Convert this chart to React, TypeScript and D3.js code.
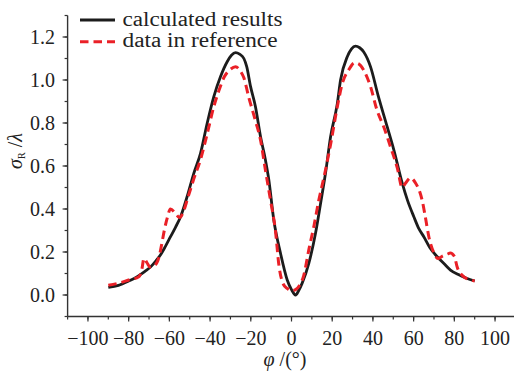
import React, { useEffect } from 'react';
import * as d3 from 'd3';

// calculated results (black solid)
const calcPhi = [-90, -85, -80, -75.8, -72, -69.3, -66.5, -64.4, -62, -59.5, -57, -54.5, -51.3, -48, -44.7, -41.4, -38.2, -34.9, -31.6, -29.5, -27.5, -25.5, -23.4, -22, -20.1, -17.7, -15.2, -12.8, -11.2, -8.7, -5.4, -2.1, 0, 2, 3.5, 5.2, 8.5, 11.8, 14.3, 16.7, 19.2, 22.5, 24.1, 27.4, 29.5, 31.4, 33.5, 35.5, 38.8, 42.5, 47, 50.3, 54.4, 57, 60.1, 62.5, 65, 68, 71.6, 75, 78.1, 82, 86, 90];
const calcVal = [0.035, 0.045, 0.065, 0.085, 0.11, 0.13, 0.16, 0.186, 0.225, 0.27, 0.315, 0.364, 0.457, 0.566, 0.659, 0.8, 0.922, 1.015, 1.085, 1.115, 1.127, 1.12, 1.1, 1.062, 0.969, 0.876, 0.736, 0.628, 0.54, 0.349, 0.194, 0.07, 0.025, 0.0, 0.02, 0.054, 0.147, 0.287, 0.427, 0.566, 0.736, 0.89, 1.0, 1.108, 1.145, 1.158, 1.15, 1.13, 1.062, 0.93, 0.783, 0.674, 0.52, 0.44, 0.364, 0.31, 0.271, 0.22, 0.178, 0.145, 0.116, 0.095, 0.078, 0.065];

// data in reference (red dashed)
const refPhi = [-90, -85, -80, -75, -73.5, -72.5, -71, -69.5, -67, -65, -63.5, -62.5, -61, -59.5, -57, -55, -53, -51, -48, -44.7, -41.4, -38.2, -35.7, -33, -30, -27.5, -25, -23.4, -21, -17.7, -15.2, -12.8, -10.3, -7.9, -6.2, -4, -2, 0, 2, 4, 6, 8.5, 11, 13.4, 16, 19.2, 22.5, 25, 28, 31, 33, 35.5, 38.8, 42, 45.4, 48.6, 52, 54.4, 56, 58.5, 61, 63, 64.2, 65.8, 67.5, 70, 72, 74, 76.5, 78, 80, 81.4, 84, 88, 90];
const refVal = [0.045, 0.055, 0.07, 0.085, 0.12, 0.17, 0.15, 0.13, 0.14, 0.18, 0.25, 0.3, 0.36, 0.4, 0.38, 0.36, 0.39, 0.45, 0.54, 0.63, 0.75, 0.875, 0.95, 1.015, 1.05, 1.062, 1.04, 1.01, 0.92, 0.81, 0.72, 0.58, 0.44, 0.3, 0.14, 0.05, 0.03, 0.02, 0.025, 0.045, 0.09, 0.21, 0.32, 0.44, 0.55, 0.7, 0.875, 0.985, 1.045, 1.08, 1.075, 1.045, 0.97, 0.86, 0.78, 0.69, 0.59, 0.5, 0.52, 0.545, 0.52, 0.48, 0.44, 0.36, 0.27, 0.195, 0.17, 0.18, 0.19, 0.195, 0.18, 0.13, 0.09, 0.07, 0.065];

const xTicks = [-100, -80, -60, -40, -20, 0, 20, 40, 60, 80, 100];
const yTicks = [0, 0.2, 0.4, 0.6, 0.8, 1.0, 1.2];

const W = 514;
const H = 373;
const FONT = "'Liberation Serif', 'Times New Roman', Times, serif";

const App: React.FC = () => {
  useEffect(() => {
    document.body.style.margin = '0';
    document.body.style.fontFamily = FONT;
  }, []);

  const x = d3.scaleLinear().domain([-110, 110]).range([67.6, 515.4]);
  const y = d3.scaleLinear().domain([-0.1, 1.3]).range([316.5, 15.5]);

  const line = d3
    .line<[number, number]>()
    .x(d => x(d[0]))
    .y(d => y(d[1]))
    .curve(d3.curveMonotoneX);

  const calc: [number, number][] = calcPhi.map((p, i) => [p, calcVal[i]]);
  const ref: [number, number][] = refPhi.map((p, i) => [p, refVal[i]]);

  const xMinor = d3.range(-110, 111, 10);
  const yMinor = d3.range(-1, 14).map(k => k / 10);

  const axisColor = '#333';
  const ts = { fontFamily: FONT };

  return (
    <svg width={W} height={H} style={{ display: 'block', background: '#fff', fontFamily: FONT }}>
      {/* curves */}
      <path d={line(calc) || ''} fill="none" stroke="#1c1c1c" strokeWidth={2.8} strokeLinejoin="round" />
      <path d={line(ref) || ''} fill="none" stroke="#ea2027" strokeWidth={3} strokeDasharray="8.5,5" />

      {/* x axis */}
      <line x1={x(-110)} x2={x(110)} y1={y(-0.1)} y2={y(-0.1)} stroke={axisColor} strokeWidth={1.4} />
      {xMinor.map(t => (
        <line key={`xm-${t}`} x1={x(t)} x2={x(t)} y1={y(-0.1)} y2={y(-0.1) + 3} stroke={axisColor} strokeWidth={1.2} />
      ))}
      {xTicks.map(t => (
        <g key={`x-${t}`}>
          <line x1={x(t)} x2={x(t)} y1={y(-0.1)} y2={y(-0.1) + 5} stroke={axisColor} strokeWidth={1.2} />
          <text x={x(t)} y={345} textAnchor="middle" fontSize={20} fill="#222" style={ts}>
            {t < 0 ? `\u2212${Math.abs(t)}` : t}
          </text>
        </g>
      ))}
      <text x={285} y={366} textAnchor="middle" fontSize={20} fill="#222" style={ts}>
        <tspan fontStyle="italic">φ</tspan> /(°)
      </text>

      {/* y axis */}
      <line x1={x(-110)} x2={x(-110)} y1={y(-0.1)} y2={y(1.3)} stroke={axisColor} strokeWidth={1.4} />
      {yMinor.map(t => (
        <line key={`ym-${t}`} x1={x(-110) - 3} x2={x(-110)} y1={y(t)} y2={y(t)} stroke={axisColor} strokeWidth={1.2} />
      ))}
      {yTicks.map(t => (
        <g key={`y-${t}`}>
          <line x1={x(-110) - 5} x2={x(-110)} y1={y(t)} y2={y(t)} stroke={axisColor} strokeWidth={1.2} />
          <text x={55} y={y(t)} dy="0.34em" textAnchor="end" fontSize={20} fill="#222" style={ts}>
            {t.toFixed(1)}
          </text>
        </g>
      ))}
      <text transform="translate(22,151) rotate(-90)" textAnchor="middle" fontSize={20} fill="#222" style={ts}>
        <tspan fontStyle="italic">σ</tspan>
        <tspan fontSize={10} dy={3}>R</tspan>
        <tspan dy={-3}> /</tspan>
        <tspan fontStyle="italic">λ</tspan>
      </text>

      {/* legend */}
      <line x1={80} x2={115} y1={20} y2={20} stroke="#1c1c1c" strokeWidth={2.8} />
      <text x={122.5} y={26} fontSize={20} fill="#222" style={ts} textLength={160} lengthAdjust="spacingAndGlyphs">
        calculated results
      </text>
      <line x1={80} x2={115} y1={41.7} y2={41.7} stroke="#ea2027" strokeWidth={3} strokeDasharray="8.5,5" />
      <text x={122.5} y={47} fontSize={20} fill="#222" style={ts} textLength={155} lengthAdjust="spacingAndGlyphs">
        data in reference
      </text>
    </svg>
  );
};

export default App;
